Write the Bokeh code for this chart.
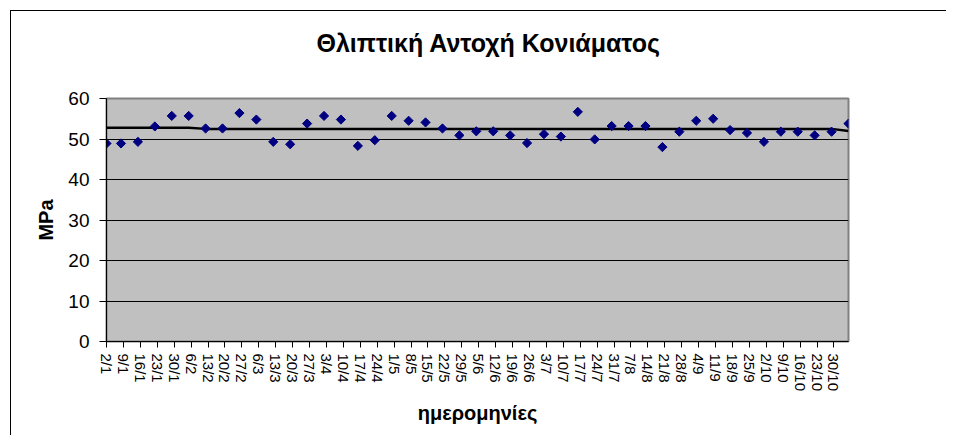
import numpy as np
from datetime import date
from bokeh.plotting import figure
from bokeh.models import Range1d, FixedTicker, Title
from bokeh.embed import file_html
from bokeh.resources import INLINE

YEAR = 2007

point_dates = ["2/1", "8/1", "15/1", "22/1", "29/1", "5/2", "12/2", "19/2", "26/2",
               "5/3", "12/3", "19/3", "26/3", "2/4", "9/4", "16/4", "23/4", "30/4",
               "7/5", "14/5", "21/5", "28/5", "4/6", "11/6", "18/6", "25/6",
               "2/7", "9/7", "16/7", "23/7", "30/7", "6/8", "13/8", "20/8", "27/8",
               "3/9", "10/9", "17/9", "24/9", "1/10", "8/10", "15/10", "22/10", "29/10", "5/11"]

strength = [48.9, 48.9, 49.3, 53.1, 55.7, 55.7, 52.6, 52.6, 56.4, 54.8,
            49.3, 48.7, 53.8, 55.7, 54.8, 48.3, 49.7, 55.7, 54.5, 54.1,
            52.6, 50.9, 51.9, 51.9, 50.9, 49.0, 51.2, 50.6, 56.7, 49.9,
            53.2, 53.2, 53.2, 48.0, 51.8, 54.5, 55.0, 52.2, 51.5, 49.3,
            51.8, 51.8, 50.9, 51.8, 53.8]

trend = [52.8, 52.8, 52.8, 52.8, 52.8, 52.8, 52.5, 52.5, 52.5, 52.5,
         52.5, 52.5, 52.5, 52.5, 52.5, 52.5, 52.5, 52.5, 52.5, 52.5,
         52.5, 52.5, 52.5, 52.5, 52.5, 52.5, 52.5, 52.5, 52.5, 52.5,
         52.5, 52.5, 52.5, 52.5, 52.5, 52.5, 52.5, 52.5, 52.5, 52.5,
         52.5, 52.5, 52.5, 52.5, 52.0]

tick_labels = ["2/1", "9/1", "16/1", "23/1", "30/1", "6/2", "13/2", "20/2", "27/2",
               "6/3", "13/3", "20/3", "27/3", "3/4", "10/4", "17/4", "24/4",
               "1/5", "8/5", "15/5", "22/5", "29/5", "5/6", "12/6", "19/6", "26/6",
               "3/7", "10/7", "17/7", "24/7", "31/7", "7/8", "14/8", "21/8", "28/8",
               "4/9", "11/9", "18/9", "25/9", "2/10", "9/10", "16/10", "23/10", "30/10"]

y_ticks = [0, 10, 20, 30, 40, 50, 60]

title_text = "Θλιπτική Αντοχή Κονιάματος"
x_title = "ημερομηνίες"
y_title = "MPa"


def doy(s):
    d, m = map(int, s.split("/"))
    return date(YEAR, m, d).timetuple().tm_yday


xs = [doy(s) for s in point_dates]
tick_pos = [doy(s) for s in tick_labels]

FONT = "Liberation Sans"

p = figure(width=936, height=425, output_backend="svg", toolbar_location=None,
           title=None,
           x_range=Range1d(min(xs), max(xs)), y_range=Range1d(0, 60),
           min_border_left=95, min_border_right=99, min_border_top=87,
           min_border_bottom=95)
p.styles = {"margin-left": "10px", "margin-top": "10px",
            "border-left": "1px solid #000", "border-top": "1px solid #000"}

p.background_fill_color = "#C0C0C0"
p.border_fill_color = "white"
p.outline_line_color = "#808080"
p.outline_line_width = 2

# spacer between the title and the plot area (closest to the frame)
spacer = Title(text=" ", text_font_size="1px", standoff=20)
p.add_layout(spacer, "above")
main_title = Title(text=title_text, align="left", offset=210, standoff=34,
                   vertical_align="top", text_font=FONT, text_font_size="25px",
                   text_font_style="bold", text_color="black")
p.add_layout(main_title, "above")

# grid
p.xgrid.grid_line_color = None
p.ygrid.grid_line_color = "black"
p.ygrid.grid_line_width = 1
p.ygrid.ticker = FixedTicker(ticks=y_ticks)

# y axis
p.yaxis.ticker = FixedTicker(ticks=y_ticks)
p.yaxis.axis_label = y_title
p.yaxis.axis_label_text_font = FONT
p.yaxis.axis_label_text_font_size = "20px"
p.yaxis.axis_label_text_font_style = "bold"
p.yaxis.axis_label_text_color = "black"
p.yaxis.axis_label_standoff = 8
p.yaxis.major_label_text_font = FONT
p.yaxis.major_label_text_font_size = "19px"
p.yaxis.major_label_text_color = "black"
p.yaxis.major_label_standoff = 10
p.yaxis.major_tick_out = 7
p.yaxis.major_tick_in = 0
p.yaxis.minor_tick_line_color = None
p.yaxis.axis_line_color = "black"
p.yaxis.major_tick_line_color = "black"

# x axis
p.xaxis.ticker = FixedTicker(ticks=tick_pos)
p.xaxis.major_label_overrides = {pos: lab for pos, lab in zip(tick_pos, tick_labels)}
p.xaxis.major_label_orientation = -np.pi / 2
p.xaxis.axis_label = x_title
p.xaxis.axis_label_text_font = FONT
p.xaxis.axis_label_text_font_size = "20px"
p.xaxis.axis_label_text_font_style = "bold"
p.xaxis.axis_label_text_color = "black"
p.xaxis.axis_label_standoff = 8
p.xaxis.major_label_text_font = FONT
p.xaxis.major_label_text_font_size = "15px"
p.xaxis.major_label_text_color = "black"
p.xaxis.major_label_standoff = 6
p.xaxis.major_tick_out = 6
p.xaxis.major_tick_in = 0
p.xaxis.minor_tick_line_color = None
p.xaxis.axis_line_color = "black"
p.xaxis.major_tick_line_color = "black"

p.line(xs, trend, line_color="black", line_width=2.5)
p.scatter(xs, strength, marker="square", angle=np.pi / 4, size=6.5,
          fill_color="#000080", line_color="#000080")

open("out.html", "w").write(file_html(p, INLINE))
